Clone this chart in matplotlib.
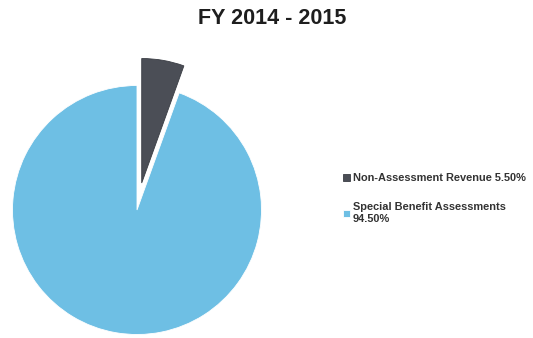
import matplotlib
matplotlib.use("Agg")
import matplotlib.pyplot as plt

plt.rcParams["font.family"] = ["Liberation Sans", "DejaVu Sans"]

# revenue split for the fiscal year
CATEGORIES = ["Non-Assessment Revenue", "Special Benefit Assessments"]
SHARES = [5.50, 94.50]
LEGEND_LABELS = ["Non-Assessment Revenue 5.50%", "Special Benefit Assessments\n94.50%"]
COLORS = ["#4b4e56", "#6ebfe4"]
EXPLODE = [0.22, 0.0]

W, H = 533, 338
fig = plt.figure(figsize=(W / 100, H / 100), dpi=100)
fig.patch.set_facecolor("white")

# pie axes: unit circle = 124.5 px, centred at (137, 210) px
r = 124.5
cx, cy = 137, 210
ax = fig.add_axes([(cx - r) / W, (H - cy - r) / H, 2 * r / W, 2 * r / H])
wedges, _ = ax.pie(SHARES, colors=COLORS, explode=EXPLODE, startangle=90,
                   counterclock=False, radius=1.0,
                   wedgeprops={"linewidth": 0.6, "edgecolor": "white", "clip_on": False})
wedges[0].set_edgecolor("#3a3d44")
ax.set_xlim(-1, 1)
ax.set_ylim(-1, 1)
ax.set_aspect("equal")
ax.axis("off")

fig.text(272 / W, 1 - 19 / H, "FY 2014 - 2015", ha="center", va="center",
         fontsize=15.5, fontweight="bold", color="#1e1e1e")

leg = fig.legend(wedges, LEGEND_LABELS, loc="upper left",
                 bbox_to_anchor=(339 / W, 1 - 169 / H), frameon=False,
                 fontsize=7.9, handlelength=0.6, handleheight=0.6,
                 handletextpad=0.25, labelspacing=1.7, borderaxespad=0)
for t in leg.get_texts():
    t.set_fontweight("bold")
    t.set_color("#333333")
    t.set_linespacing(1.25)

fig.savefig("out.png", dpi=100)
